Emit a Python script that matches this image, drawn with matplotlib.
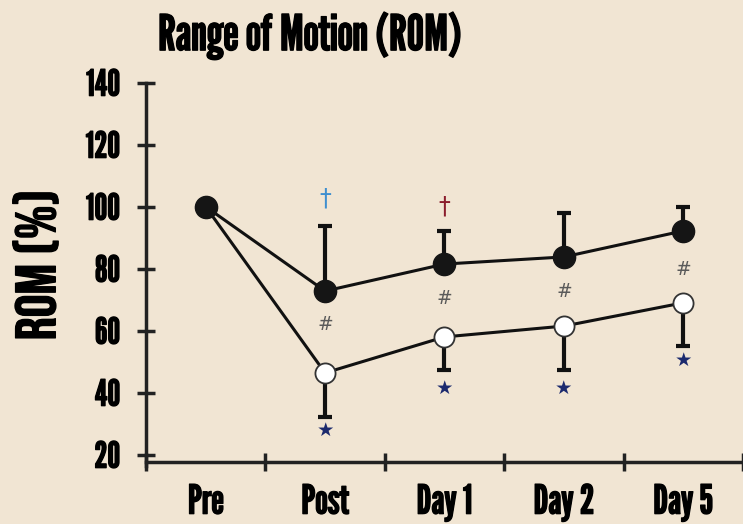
import matplotlib
matplotlib.use("Agg")
import matplotlib.pyplot as plt
import matplotlib.patheffects as pe

categories = ["Pre", "Post", "Day 1", "Day 2", "Day 5"]
filled_mean = [100, 72.8, 81.5, 83.8, 92.2]
filled_top = [100, 93.7, 92.2, 98.0, 100.0]
open_mean = [100, 46.4, 58.0, 61.5, 69.0]
open_bottom = [100, 32.2, 47.3, 47.3, 55.0]
yticks = [20, 40, 60, 80, 100, 120, 140]

dagger_y = [None, 102.5, 100.0, None, None]
dagger_col = [None, "#3f8fcf", "#8b1c2c", None, None]
hash_y = [None, 62.0, 70.5, 72.8, 79.6]
star_y = [None, 28.0, 41.5, 41.5, 50.5]

BG = "#f1e5d3"
FONT = ["League Gothic", "Oswald", "DejaVu Sans"]
LABFONT = ["Bebas Neue", "Oswald", "DejaVu Sans"]
SYM = ["DejaVu Sans"]
plt.rcParams["font.family"] = FONT
bold = [pe.withStroke(linewidth=0.9, foreground="black")]

fig = plt.figure(figsize=(7.43, 5.24), dpi=100, facecolor=BG)
ax = fig.add_axes([0.1965, 0.1174, 0.8035, 0.7248], facecolor=BG)
x = [i + 0.5 for i in range(len(categories))]

ax.plot(x, filled_mean, color="#111111", lw=2.2, zorder=2)
ax.plot(x, open_mean, color="#111111", lw=2.2, zorder=2)
up = [t - m for t, m in zip(filled_top, filled_mean)]
dn = [m - b for m, b in zip(open_mean, open_bottom)]
ax.errorbar(x[1:], filled_mean[1:], yerr=[[0] * 4, up[1:]], fmt="none", ecolor="#111111",
            elinewidth=3, capsize=5, capthick=3, zorder=1)
ax.errorbar(x[1:], open_mean[1:], yerr=[dn[1:], [0] * 4], fmt="none", ecolor="#111111",
            elinewidth=3, capsize=5, capthick=3, zorder=1)
ax.plot(x, open_mean, "o", ms=14.5, mfc="white", mec="#333333", mew=1.3, zorder=3)
ax.plot(x, filled_mean, "o", ms=16, mfc="#151515", mec="#151515", zorder=4)

for xi, dy, dc in zip(x, dagger_y, dagger_col):
    if dy is not None:
        ax.text(xi, dy, "†", ha="center", va="center", fontsize=17, color=dc, family=SYM)
for xi, hy in zip(x, hash_y):
    if hy is not None:
        ax.text(xi, hy, "#", ha="center", va="center", fontsize=13.5, color="#5a5a5a", family=SYM)
for xi, sy in zip(x, star_y):
    if sy is not None:
        ax.text(xi, sy, "★", ha="center", va="center", fontsize=14, color="#1c2a6e", family=SYM)

ax.set_xlim(0, 5)
ax.set_ylim(17.5, 140)
ax.set_xticks(range(6))
ax.set_xticklabels([])
ax.set_xticks(x, minor=True)
ax.set_xticklabels(categories, minor=True, fontsize=29)
ax.tick_params(axis="x", which="minor", length=0, pad=16)
ax.tick_params(axis="x", which="major", direction="inout", length=13, width=2.5, color="#222222")
ax.set_yticks(yticks)
ax.set_yticklabels([str(v) for v in yticks], fontsize=26)
ax.tick_params(axis="y", direction="inout", length=13, width=2.5, color="#222222", pad=12)
for lab in ax.get_xticklabels(minor=True) + ax.get_yticklabels():
    lab.set_path_effects(bold)
for s in ["top", "right"]:
    ax.spines[s].set_visible(False)
for s in ["left", "bottom"]:
    ax.spines[s].set_linewidth(2.5)
    ax.spines[s].set_color("#222222")
ax.spines["left"].set_bounds(16.5, 140)
fig.text(35 / 743, 1 - 265 / 524, "ROM (%)", rotation=90, ha="center", va="center",
         fontsize=41, family=LABFONT, path_effects=bold)
fig.text(310 / 743, 0.933, "Range of Motion (ROM)", ha="center", va="center", fontsize=35.5,
         path_effects=bold)

fig.savefig("out.png", dpi=100, facecolor=BG)
